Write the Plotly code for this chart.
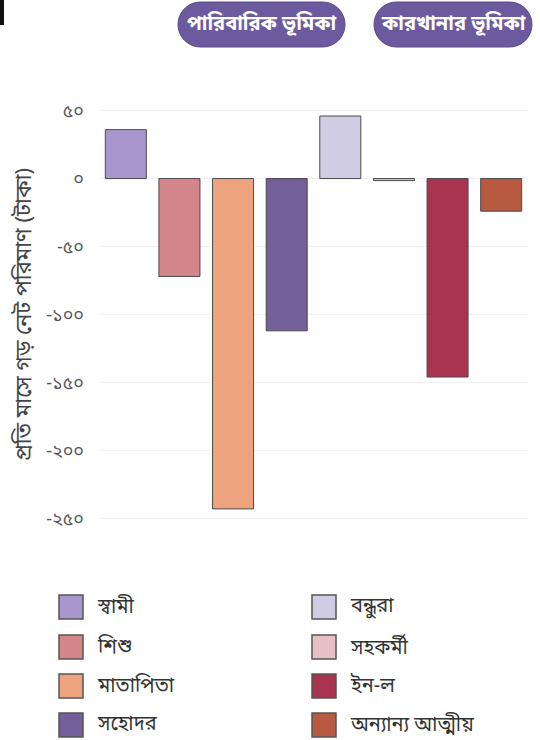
import math
import plotly.graph_objects as go

# ---- data ----
categories = ["স্বামী", "শিশু", "মাতাপিতা", "সহোদর", "বন্ধুরা", "সহকর্মী", "ইন-ল", "অন্যান্য আত্মীয়"]
values = [36, -72, -243, -112, 46, -1.5, -146, -24]
colors = ["#a897cc", "#d4868a", "#eda47e", "#735f99", "#d0cce3", "#e8c0c4", "#a8344f", "#b85a42"]
tick_vals = [50, 0, -50, -100, -150, -200, -250]
tick_text = ["৫০", "০", "-৫০", "-১০০", "-১৫০", "-২০০", "-২৫০"]
y_title = "প্রতি মাসে গড় নেট পরিমাণ (টাকা)"
button_labels = ["পারিবারিক ভূমিকা", "কারখানার ভূমিকা"]

FONT = "Noto Sans Bengali, Noto Sans, DejaVu Sans, sans-serif"
W, H = 540, 740
L, R, T, B = 99, 12, 97, 208
PW, PH = W - L - R, H - T - B

def px_x(px):
    return (px - L) / PW

def px_y(py):
    return (H - B - py) / PH

fig = go.Figure()
fig.add_trace(go.Bar(
    x=categories, y=values,
    marker=dict(color=colors, line=dict(color="#4a4a4a", width=1)),
    showlegend=False, hoverinfo="x+y",
))

shapes = []
annotations = []

# pill buttons at top
pills = [(178, 345), (374, 532)]
for (x0, x1), lab in zip(pills, button_labels):
    y0, y1 = 2, 47
    r = (y1 - y0) / 2
    pts = []
    for i in range(0, 19):
        a = math.pi / 2 + math.pi * i / 18
        pts.append((x0 + r + r * math.cos(a), (y0 + y1) / 2 - r * math.sin(a)))
    for i in range(0, 19):
        a = -math.pi / 2 + math.pi * i / 18
        pts.append((x1 - r + r * math.cos(a), (y0 + y1) / 2 - r * math.sin(a)))
    path = "M " + " L ".join(f"{px_x(px):.5f},{px_y(py):.5f}" for px, py in pts) + " Z"
    shapes.append(dict(type="path", xref="paper", yref="paper", path=path,
                       fillcolor="#6b5a9e", line=dict(color="#5a4a8a", width=1), layer="above"))
    annotations.append(dict(x=px_x((x0 + x1) / 2), y=px_y((y0 + y1) / 2), xref="paper", yref="paper",
                            text=f"<b>{lab}</b>", showarrow=False,
                            font=dict(family=FONT, size=20, color="white"),
                            xanchor="center", yanchor="middle"))

# small black mark top-left
shapes.append(dict(type="rect", xref="paper", yref="paper",
                   x0=px_x(0), x1=px_x(4), y0=px_y(0), y1=px_y(25),
                   fillcolor="#111111", line=dict(width=0)))

# manual legend (two columns, four rows)
col_x = [59, 312]
row_y = [607, 647, 686, 725]
for i, (cat, col) in enumerate(zip(categories, colors)):
    cx = col_x[i // 4]
    cy = row_y[i % 4]
    shapes.append(dict(type="rect", xref="paper", yref="paper",
                       x0=px_x(cx), x1=px_x(cx + 24), y0=px_y(cy - 12), y1=px_y(cy + 12),
                       fillcolor=col, line=dict(color="#555555", width=1.5)))
    annotations.append(dict(x=px_x(cx + 36), y=px_y(cy), xref="paper", yref="paper",
                            text=cat, showarrow=False, xanchor="left", yanchor="middle",
                            font=dict(family=FONT, size=20, color="#333333")))

fig.update_layout(
    width=W, height=H,
    margin=dict(l=L, r=R, t=T, b=B),
    paper_bgcolor="white", plot_bgcolor="white",
    bargap=0.235,
    font=dict(family=FONT, color="#444444"),
    shapes=shapes, annotations=annotations,
    xaxis=dict(showticklabels=False, showgrid=False, zeroline=False, showline=False),
    yaxis=dict(range=[-260, 60], tickvals=tick_vals, ticktext=tick_text,
               showgrid=True, gridcolor="#f1f1f1", gridwidth=1,
               zeroline=False, showline=False,
               ticks="", ticklabelstandoff=14,
               tickfont=dict(family=FONT, size=18, color="#555555"),
               title=dict(text=y_title, font=dict(family=FONT, size=22, color="#444444"), standoff=8)),
)

fig.write_html("out.html", config={"displayModeBar": False},
               post_script="document.body.style.margin='0';")
